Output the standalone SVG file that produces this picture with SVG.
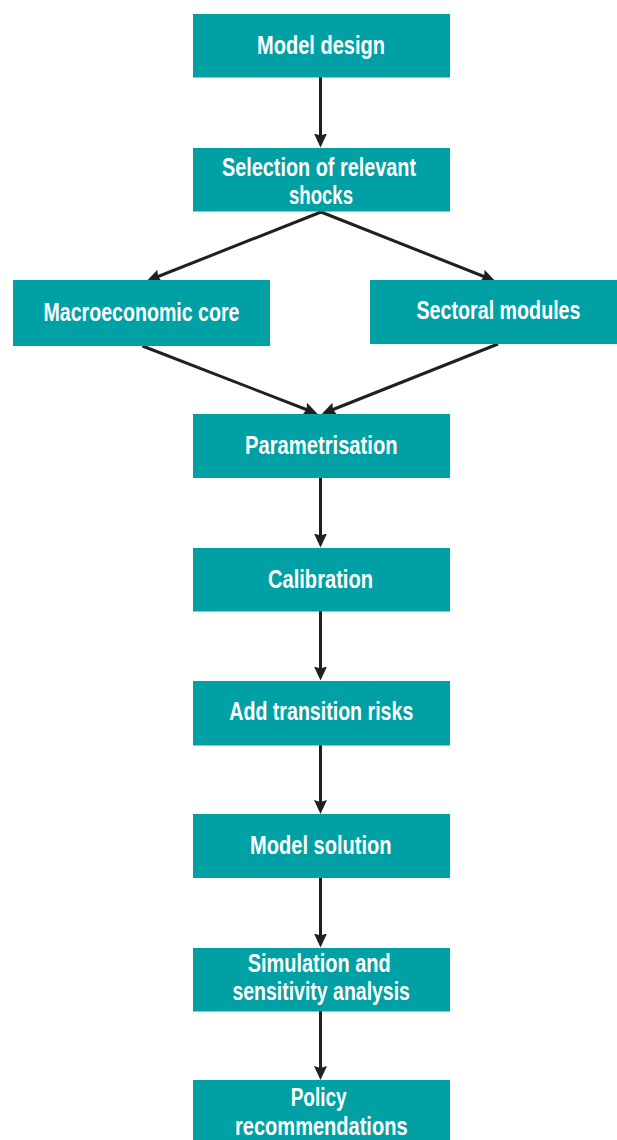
<svg xmlns="http://www.w3.org/2000/svg" width="617" height="1140" viewBox="0 0 617 1140">
<style>
.box{fill:#00a0a4}
.t{font-family:"Liberation Sans",Arial,sans-serif;font-weight:bold;font-size:25px;fill:#ffffff;text-anchor:middle}
.c{stroke:#231f20;stroke-width:3;fill:none;marker-end:url(#ah)}
</style>
<defs>
<marker id="ah" markerUnits="userSpaceOnUse" markerWidth="15" markerHeight="14" refX="10" refY="6.5" orient="auto">
<path d="M0,0 L14,6.5 L0,13 L2,6.5 Z" fill="#231f20"/>
</marker>
</defs>
<rect width="617" height="1140" fill="#ffffff"/>
<g id="connectors">
<line class="c" x1="320.5" y1="77" x2="320.5" y2="143.5"/>
<line class="c" x1="321" y1="212" x2="150.5" y2="279.5"/>
<line class="c" x1="321" y1="212" x2="491.5" y2="279.5"/>
<line class="c" x1="142.5" y1="346" x2="314" y2="412.5"/>
<line class="c" x1="498" y1="344" x2="325.5" y2="412.5"/>
<line class="c" x1="320.5" y1="478" x2="320.5" y2="543.5"/>
<line class="c" x1="320.5" y1="611" x2="320.5" y2="676.5"/>
<line class="c" x1="320.5" y1="745" x2="320.5" y2="810"/>
<line class="c" x1="320.5" y1="878" x2="320.5" y2="943.5"/>
<line class="c" x1="320.5" y1="1011" x2="320.5" y2="1076"/>
</g>
<g id="n-model-design"><rect class="box" x="193" y="14" width="257" height="63.5"/><text class="t" x="321" y="54" textLength="128" lengthAdjust="spacingAndGlyphs">Model design</text></g>
<g id="n-selection"><rect class="box" x="193" y="148" width="257" height="63.5"/><text class="t" x="319" y="175.5" textLength="194" lengthAdjust="spacingAndGlyphs">Selection of relevant</text><text class="t" x="321" y="204" textLength="64" lengthAdjust="spacingAndGlyphs">shocks</text></g>
<g id="n-macro"><rect class="box" x="13" y="280" width="257" height="66"/><text class="t" x="141.5" y="320.5" textLength="196" lengthAdjust="spacingAndGlyphs">Macroeconomic core</text></g>
<g id="n-sectoral"><rect class="box" x="370" y="280" width="247" height="64"/><text class="t" x="498.5" y="319" textLength="164" lengthAdjust="spacingAndGlyphs">Sectoral modules</text></g>
<g id="n-param"><rect class="box" x="193" y="414" width="257" height="64"/><text class="t" x="321.3" y="453.5" textLength="152.5" lengthAdjust="spacingAndGlyphs">Parametrisation</text></g>
<g id="n-calibration"><rect class="box" x="193" y="548" width="257" height="63.5"/><text class="t" x="320.5" y="587.5" textLength="105" lengthAdjust="spacingAndGlyphs">Calibration</text></g>
<g id="n-transition"><rect class="box" x="193" y="681" width="257" height="64.5"/><text class="t" x="321.3" y="720" textLength="184" lengthAdjust="spacingAndGlyphs">Add transition risks</text></g>
<g id="n-solution"><rect class="box" x="193" y="814" width="257" height="64"/><text class="t" x="320.8" y="853.5" textLength="141.5" lengthAdjust="spacingAndGlyphs">Model solution</text></g>
<g id="n-simulation"><rect class="box" x="193" y="948" width="257" height="63.5"/><text class="t" x="319.2" y="971.5" textLength="143" lengthAdjust="spacingAndGlyphs">Simulation and</text><text class="t" x="321.2" y="1000" textLength="177.5" lengthAdjust="spacingAndGlyphs">sensitivity analysis</text></g>
<g id="n-policy"><rect class="box" x="193" y="1080" width="257" height="60"/><text class="t" x="318.7" y="1105.5" textLength="56" lengthAdjust="spacingAndGlyphs">Policy</text><text class="t" x="321.3" y="1135" textLength="172.5" lengthAdjust="spacingAndGlyphs">recommendations</text></g>
</svg>
